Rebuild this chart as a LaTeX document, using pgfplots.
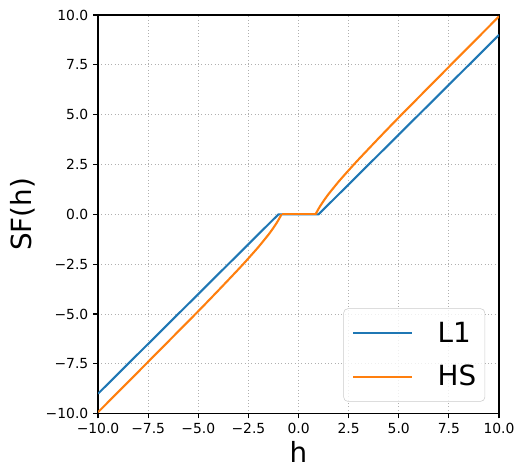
\documentclass[border=0pt]{standalone}
\usepackage{fontspec}
\setmainfont{DejaVu Sans}
\usepackage{pgfplots}
\pgfplotsset{compat=1.18}
\definecolor{cblue}{HTML}{1F77B4}
\definecolor{corange}{HTML}{FF7F0E}
\definecolor{lgray}{HTML}{CCCCCC}
\definecolor{ggray}{HTML}{B0B0B0}
\begin{document}
\begin{tikzpicture}
\begin{axis}[
  at={(0,0)}, anchor=south west,
  scale only axis, width=288.7pt, height=287pt,
  xmin=-10, xmax=10, ymin=-10, ymax=10,
  xtick={-10,-7.5,-5,-2.5,0,2.5,5,7.5,10},
  ytick={-10,-7.5,-5,-2.5,0,2.5,5,7.5,10},
  xticklabels={−10.0,−7.5,−5.0,−2.5,0.0,2.5,5.0,7.5,10.0},
  yticklabels={−10.0,−7.5,−5.0,−2.5,0.0,2.5,5.0,7.5,10.0},
  tick align=outside, tick pos=left,
  major tick length=3.5pt,
  every tick/.style={black, line width=0.8pt},
  axis line style={line width=0.8pt},
  ticklabel style={font=\fontsize{10}{12}\selectfont},
  grid=major,
  grid style={dotted, line width=0.6pt, color=ggray},
  xlabel={h}, ylabel={SF(h)},
  label style={font=\fontsize{20}{24}\selectfont},
  xlabel style={at={(axis description cs:0.5,-0.122)}, anchor=base, inner sep=0pt},
  ylabel style={at={(axis description cs:-0.167,0.5)}, anchor=base, rotate=0},
  legend style={at={(axis description cs:0.9653,0.03)}, anchor=south east,
    draw=lgray, rounded corners=3pt, fill=white, fill opacity=0.8, text opacity=1,
    font=\fontsize{20}{24}\selectfont, nodes={inner sep=0pt},
    row sep=14.9pt, column sep=18pt, inner xsep=6.2pt, inner ysep=9.7pt},
  legend cell align=left,
  legend image code/.code={\draw[#1] (0pt,0pt) -- (42pt,0pt);},
]
\addplot[cblue, line width=1.5pt] coordinates {(-10,-9) (-1,0) (1,0) (10,9)};
\addlegendentry{L1}
\addplot[corange, line width=1.5pt, smooth, tension=0.3] coordinates {
(-10,-9.93) (-7.5,-7.40) (-5,-4.86) (-4,-3.82) (-3,-2.76) (-2.5,-2.21) (-2,-1.64)
(-1.5,-1.02) (-1.25,-0.674) (-1.1,-0.445) (-1,-0.28) (-0.95,-0.19) (-0.9,-0.10) (-0.85,0)
};
\addlegendentry{HS}
\addplot[corange, line width=1.5pt, forget plot] coordinates {(-0.85,0) (0.85,0)};
\addplot[corange, line width=1.5pt, smooth, tension=0.3, forget plot] coordinates {
(0.85,0) (0.9,0.10) (0.95,0.19) (1,0.28) (1.1,0.445) (1.25,0.674) (1.5,1.02) (2,1.64)
(2.5,2.21) (3,2.76) (4,3.82) (5,4.86) (7.5,7.40) (10,9.93)
};
\end{axis}
\pgfresetboundingbox
\useasboundingbox (-70.6pt,-38.9pt) rectangle (300.2pt,297.8pt);
\end{tikzpicture}
\end{document}
